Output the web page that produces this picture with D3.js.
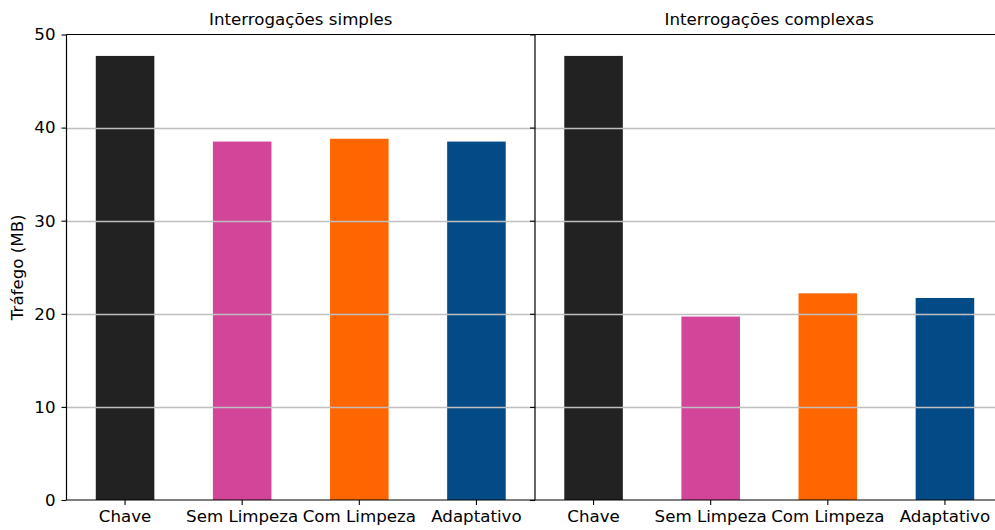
<!DOCTYPE html>
<html>
<head>
<meta charset="utf-8">
<script src="https://cdn.jsdelivr.net/npm/d3@7"></script>
<style>
  body { margin: 0; background: #fff; }
  text { font-family: "DejaVu Sans", sans-serif; fill: #000; }
</style>
</head>
<body>
<div id="chart"></div>
<script>
var categories = ["Chave", "Sem Limpeza", "Com Limpeza", "Adaptativo"];
var simplesValues = [47.7, 38.5, 38.8, 38.5];
var complexasValues = [47.7, 19.7, 22.2, 21.7];
var panelTitles = ["Interrogações simples", "Interrogações complexas"];
var yTicks = [0, 10, 20, 30, 40, 50];
var barColors = ["#222222", "#d24598", "#ff6600", "#034b87"];

function drawChart() {
  var width = 995, height = 530;
  var top = 34.5, bottom = 500;
  var panelW = 468.5;
  var panelX = [66.5, 535];
  var fontSize = "16.67px";

  var svg = d3.select("#chart").append("svg")
    .attr("width", width).attr("height", height);

  var y = d3.scaleLinear().domain([0, 50]).range([bottom, top]);

  var panels = [simplesValues, complexasValues];

  panels.forEach(function (values, p) {
    var x0 = panelX[p];
    var x = d3.scaleBand().domain(categories)
      .range([x0, x0 + panelW]).paddingInner(0.5).paddingOuter(0.25);

    var g = svg.append("g").attr("class", "panel");

    // bars
    g.selectAll("rect.bar").data(values).enter().append("rect")
      .attr("class", "bar")
      .attr("x", function (d, i) { return x(categories[i]); })
      .attr("y", function (d) { return y(d); })
      .attr("width", x.bandwidth())
      .attr("height", function (d) { return bottom - y(d); })
      .style("fill", function (d, i) { return barColors[i]; });

    // grid on top of bars
    g.selectAll("line.grid").data(yTicks.slice(1, 5)).enter().append("line")
      .attr("class", "grid")
      .attr("x1", x0).attr("x2", x0 + panelW)
      .attr("y1", function (d) { return Math.round(y(d)) + 0.5; })
      .attr("y2", function (d) { return Math.round(y(d)) + 0.5; })
      .style("stroke", "#bfbfbf").style("stroke-width", 1.4);

    // y axis
    var yAxis = d3.axisLeft(y).tickValues(yTicks).tickSize(5).tickPadding(6);
    if (p > 0) yAxis.tickFormat("");
    var ya = g.append("g").attr("transform", "translate(" + x0 + ",0)").call(yAxis);
    ya.select(".domain").remove();
    ya.selectAll("text").style("font-size", fontSize).style("font-family", "DejaVu Sans");
    ya.selectAll("line").style("stroke", "#000").style("stroke-width", 1.1);

    // x axis
    var xAxis = d3.axisBottom(x).tickSize(5).tickPadding(5);
    var xa = g.append("g").attr("transform", "translate(0," + bottom + ")").call(xAxis);
    xa.select(".domain").remove();
    xa.selectAll("text").style("font-size", fontSize).style("font-family", "DejaVu Sans");
    xa.selectAll("line").style("stroke", "#000").style("stroke-width", 1.1);

    // spines
    g.append("line").attr("x1", x0).attr("x2", x0).attr("y1", top).attr("y2", bottom)
      .style("stroke", "#000").style("stroke-width", 1.2);
    g.append("line").attr("x1", x0).attr("x2", x0 + panelW).attr("y1", top).attr("y2", top)
      .style("stroke", "#000").style("stroke-width", 1.2);
    g.append("line").attr("x1", x0).attr("x2", x0 + panelW).attr("y1", bottom).attr("y2", bottom)
      .style("stroke", "#000").style("stroke-width", 1.2);

    // title
    g.append("text")
      .attr("x", x0 + panelW / 2).attr("y", 25)
      .attr("text-anchor", "middle")
      .style("font-size", fontSize)
      .text(panelTitles[p]);
  });

  svg.append("text")
    .attr("transform", "translate(23," + ((top + bottom) / 2) + ") rotate(-90)")
    .attr("text-anchor", "middle")
    .style("font-size", fontSize)
    .text("Tráfego (MB)");
}

drawChart();
</script>
</body>
</html>
